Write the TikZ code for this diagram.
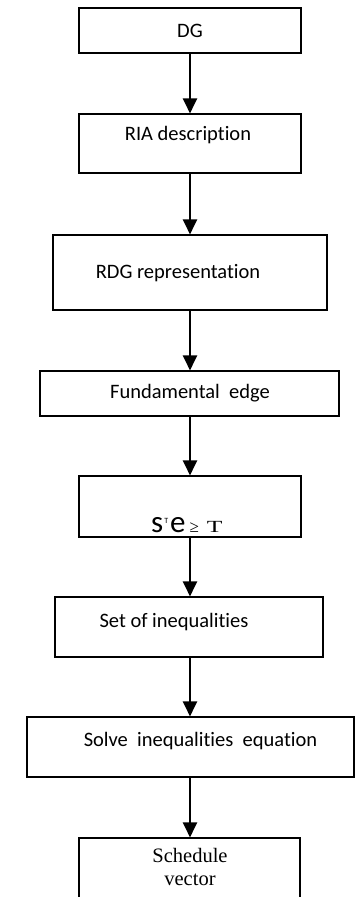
\documentclass[tikz,border=0pt]{standalone}
\usepackage{fontspec}
\setmainfont{Carlito}[Ligatures={NoCommon,NoContextual}]
\newfontfamily\serifface{Liberation Serif}
\usetikzlibrary{arrows.meta}
\begin{document}
\begin{tikzpicture}[x=1pt,y=-1pt,
  box/.style={draw=black, line width=1.1pt, rectangle, inner sep=0pt},
  lbl/.style={inner sep=0pt, font=\fontsize{20.5}{24}\selectfont},
  arr/.style={line width=2pt, -{Triangle[width=14pt,length=15pt]}}]
\useasboundingbox (0,0) rectangle (360,897);
\clip (0,0) rectangle (360,897);
\fill[white] (0,0) rectangle (360,897);
% boxes
\node[box, minimum width=222pt, minimum height=45pt] (dg) at (190,30.5) {};
\node[box, minimum width=222pt, minimum height=59pt] (ria) at (190,143.5) {};
\node[box, minimum width=274pt, minimum height=75pt] (rdg) at (190,272.5) {};
\node[box, minimum width=299pt, minimum height=45pt] (fund) at (189.5,393.5) {};
\node[box, minimum width=222pt, minimum height=61pt] (ste) at (190,506.5) {};
\node[box, minimum width=268pt, minimum height=60pt] (set) at (189,627) {};
\node[box, minimum width=327pt, minimum height=60pt] (solve) at (190.5,747) {};
\node[box, minimum width=221pt, minimum height=90pt] (sched) at (189.5,883) {};
% texts
\node[lbl] (tdg) at (190,31) {DG};
\node[lbl] (tria) at (188,135) {RIA description};
\node[lbl] (trdg) at (178,273) {RDG representation};
\node[lbl] (tfund) at (190,393) {Fundamental\ \ edge};
\node[lbl, anchor=base west] (tste) at (151,532) {{\fontsize{31}{33}\selectfont s\hspace{1pt}\raisebox{9pt}{\fontsize{8}{9}\selectfont T}\hspace{2pt}e}\hspace{4pt}{\serifface\fontsize{17}{18}\selectfont ≥\hspace{8pt}\scalebox{1.5}[1]{T}}};
\node[lbl] (tset) at (174,622) {Set of inequalities};
\node[lbl] (tsolve) at (200.5,741) {Solve\ \ inequalities\ \ equation};
\node[lbl, anchor=north, align=center, font=\serifface\fontsize{20.5}{23}\selectfont] (tsched) at (190,848) {Schedule\\vector};
% arrows
\draw[arr] (dg.south) -- (dg.south |- ria.north);
\draw[arr] (ria.south) -- (ria.south |- rdg.north);
\draw[arr] (rdg.south) -- (rdg.south |- fund.north);
\draw[arr] (ste.north |- fund.south) -- (ste.north);
\draw[arr] (ste.south) -- (ste.south |- set.north);
\draw[arr] (ste.south |- set.south) -- (ste.south |- solve.north);
\draw[arr] (ste.south |- solve.south) -- (ste.south |- sched.north);
\end{tikzpicture}
\end{document}
